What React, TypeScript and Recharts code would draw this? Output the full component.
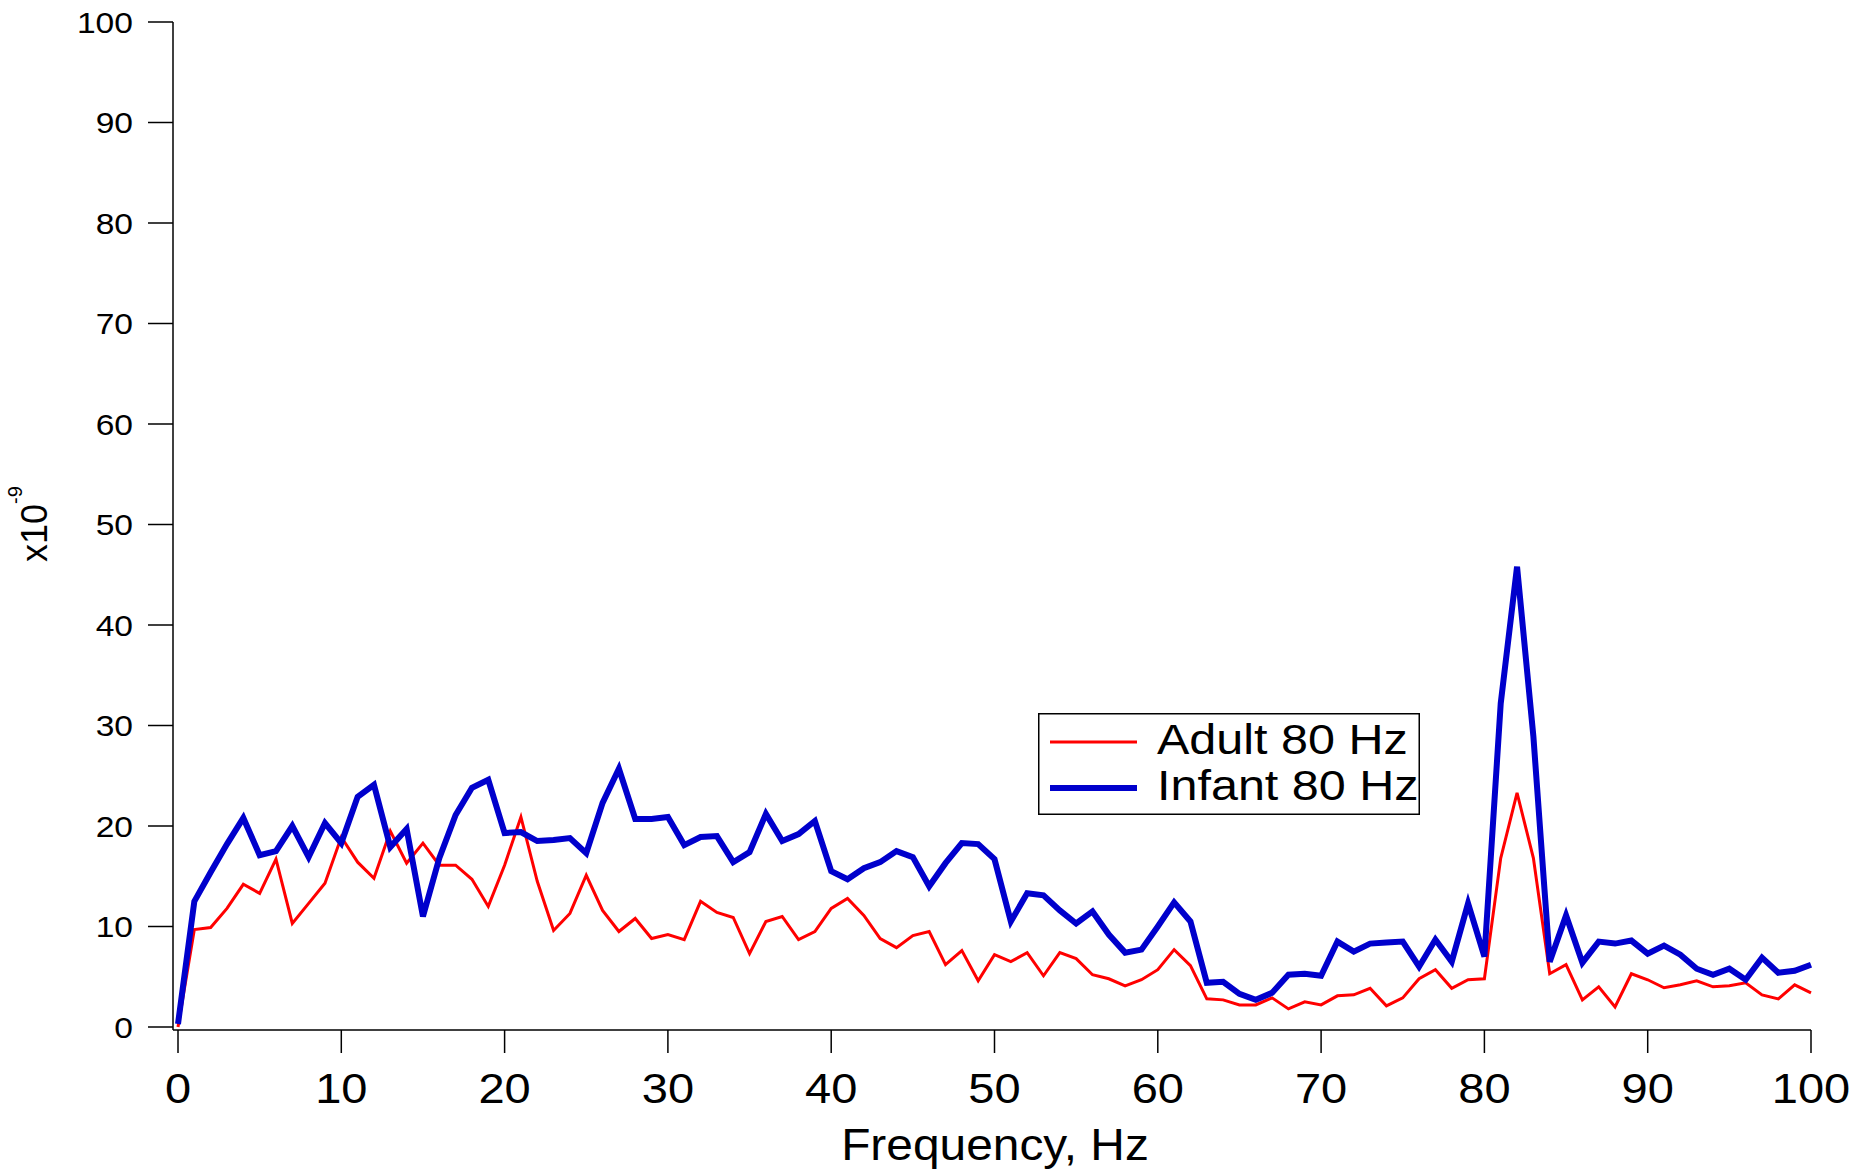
import React from 'react';
import { LineChart, Line, XAxis, YAxis, Legend } from 'recharts';

// frequency bins, Hz
const FREQ = [
  0, 1, 2, 3, 4, 5, 6, 7, 8, 9, 10, 11, 12, 13, 14, 15, 16, 17, 18, 19, 20,
  21, 22, 23, 24, 25, 26, 27, 28, 29, 30, 31, 32, 33, 34, 35, 36, 37, 38, 39, 40,
  41, 42, 43, 44, 45, 46, 47, 48, 49, 50, 51, 52, 53, 54, 55, 56, 57, 58, 59, 60,
  61, 62, 63, 64, 65, 66, 67, 68, 69, 70, 71, 72, 73, 74, 75, 76, 77, 78, 79, 80,
  81, 82, 83, 84, 85, 86, 87, 88, 89, 90, 91, 92, 93, 94, 95, 96, 97, 98, 99, 100,
];

// amplitude, x10^-9
const ADULT = [
  0, 9.7, 9.9, 11.8, 14.2, 13.3, 16.7, 10.3, 12.3, 14.3, 18.9,
  16.4, 14.8, 19.5, 16.3, 18.3, 16.1, 16.1, 14.7, 12.0, 16.1,
  20.9, 14.5, 9.6, 11.3, 15.1, 11.6, 9.5, 10.8, 8.8, 9.2,
  8.7, 12.5, 11.4, 10.9, 7.3, 10.5, 11.0, 8.7, 9.5, 11.8,
  12.8, 11.1, 8.8, 7.9, 9.1, 9.5, 6.2, 7.6, 4.6, 7.2,
  6.5, 7.4, 5.1, 7.4, 6.8, 5.2, 4.8, 4.1, 4.7, 5.7,
  7.7, 6.1, 2.8, 2.7, 2.2, 2.2, 2.9, 1.8, 2.5, 2.2,
  3.1, 3.2, 3.85, 2.1, 2.9, 4.8, 5.7, 3.85, 4.7, 4.8,
  16.8, 23.3, 16.8, 5.3, 6.2, 2.7, 4.0, 2.0, 5.3, 4.7,
  3.9, 4.2, 4.6, 4.0, 4.1, 4.4, 3.2, 2.8, 4.2, 3.4,
];

const INFANT = [
  0.3, 12.5, 15.4, 18.2, 20.8, 17.1, 17.5, 20.0, 16.9, 20.3, 18.3,
  22.9, 24.1, 17.9, 19.7, 11.0, 16.8, 21.1, 23.8, 24.6, 19.3,
  19.4, 18.5, 18.6, 18.8, 17.3, 22.3, 25.7, 20.7, 20.7, 20.9,
  18.1, 18.9, 19.0, 16.4, 17.4, 21.2, 18.5, 19.2, 20.5, 15.5,
  14.7, 15.8, 16.4, 17.5, 16.9, 14.0, 16.3, 18.3, 18.2, 16.7,
  10.5, 13.3, 13.1, 11.6, 10.3, 11.5, 9.2, 7.4, 7.7, 10.0,
  12.4, 10.5, 4.4, 4.5, 3.3, 2.7, 3.4, 5.2, 5.3, 5.1,
  8.5, 7.5, 8.3, 8.4, 8.5, 6.0, 8.7, 6.5, 12.3, 7.0,
  32.2, 45.8, 28.9, 6.5, 11.1, 6.4, 8.5, 8.3, 8.6, 7.3,
  8.1, 7.2, 5.8, 5.2, 5.8, 4.7, 6.9, 5.4, 5.6, 6.2,
];

const X_TICKS = [0, 10, 20, 30, 40, 50, 60, 70, 80, 90, 100];
const Y_TICKS = [0, 10, 20, 30, 40, 50, 60, 70, 80, 90, 100];

const SERIES_NAMES = ['Adult 80 Hz', 'Infant 80 Hz'];

const FONT = '"Liberation Sans", Arial, sans-serif';
const STRETCH = 1.12; // the original text is a bit wider than Arial

const data = FREQ.map((f, i) => ({ f, adult: ADULT[i], infant: INFANT[i] }));

const XTick = (props: any) => {
  const { x, y, payload } = props;
  return (
    <text
      transform={`translate(${x},${y}) scale(${STRETCH},1)`}
      dy="0.71em"
      textAnchor="middle"
      fontSize={42}
      fontFamily={FONT}
      fill="#000"
    >
      {payload.value}
    </text>
  );
};

const YTick = (props: any) => {
  const { x, y, payload } = props;
  return (
    <text
      transform={`translate(${x},${y}) scale(${STRETCH},1)`}
      dy="0.355em"
      textAnchor="end"
      fontSize={30}
      fontFamily={FONT}
      fill="#000"
    >
      {payload.value}
    </text>
  );
};

const renderXLabel = () => (
  <text
    transform={`translate(995,1160) scale(${STRETCH * 0.95},1)`}
    textAnchor="middle"
    fontSize={45}
    fontFamily={FONT}
    fill="#000"
  >
    Frequency, Hz
  </text>
);

const renderYLabel = () => (
  <text
    transform="translate(47,562) rotate(-90)"
    textAnchor="start"
    fontSize={36}
    fontFamily={FONT}
    fill="#000"
  >
    x10
    <tspan dy={-25} fontSize={20}>-9</tspan>
  </text>
);

const legendWidths = [3, 6];

const renderLegend = (props: any) => {
  const { payload } = props;
  return (
    <svg width={382} height={102} style={{ display: 'block' }}>
      <rect x={0.75} y={0.75} width={380.5} height={100.5} fill="#fff" stroke="#000" strokeWidth={1.5} />
      {(payload || []).map((entry: any, index: number) => (
        <g key={`legend-${index}`}>
          <line
            x1={12}
            x2={99}
            y1={29 + index * 46}
            y2={29 + index * 46}
            stroke={entry.color}
            strokeWidth={legendWidths[index]}
          />
          <text
            transform={`translate(119,${41 + index * 46}) scale(1.155,1)`}
            fontSize={42}
            fontFamily={FONT}
            fill="#000"
          >
            {entry.value}
          </text>
        </g>
      ))}
    </svg>
  );
};

export default function App() {
  return (
    <div style={{ position: 'absolute', left: 0, top: 0, background: '#fff' }}>
      <LineChart width={1872} height={1171} data={data} margin={{ top: 22, right: 61, bottom: 0, left: 0 }}>
        <XAxis
          dataKey="f"
          type="number"
          domain={[0, 100]}
          ticks={X_TICKS}
          interval={0}
          padding={{ left: 5, right: 0 }}
          height={141}
          tickSize={23}
          tickMargin={20}
          axisLine={{ stroke: '#000', strokeWidth: 1.5 }}
          tickLine={{ stroke: '#000', strokeWidth: 1.5 }}
          tick={<XTick />}
          label={renderXLabel}
        />
        <YAxis
          type="number"
          domain={[0, 100]}
          ticks={Y_TICKS}
          interval={0}
          padding={{ top: 0, bottom: 3 }}
          width={173}
          tickSize={25}
          tickMargin={15}
          axisLine={{ stroke: '#000', strokeWidth: 1.5 }}
          tickLine={{ stroke: '#000', strokeWidth: 1.5 }}
          tick={<YTick />}
          label={renderYLabel}
        />
        <Legend
          layout="vertical"
          align="center"
          verticalAlign="middle"
          wrapperStyle={{ left: 1038, top: 713, width: 382, height: 102 }}
          content={renderLegend}
        />
        <Line
          type="linear"
          dataKey="adult"
          name={SERIES_NAMES[0]}
          stroke="#FF0000"
          strokeWidth={3}
          dot={false}
          isAnimationActive={false}
        />
        <Line
          type="linear"
          dataKey="infant"
          name={SERIES_NAMES[1]}
          stroke="#0000CC"
          strokeWidth={6}
          dot={false}
          isAnimationActive={false}
        />
      </LineChart>
    </div>
  );
}
